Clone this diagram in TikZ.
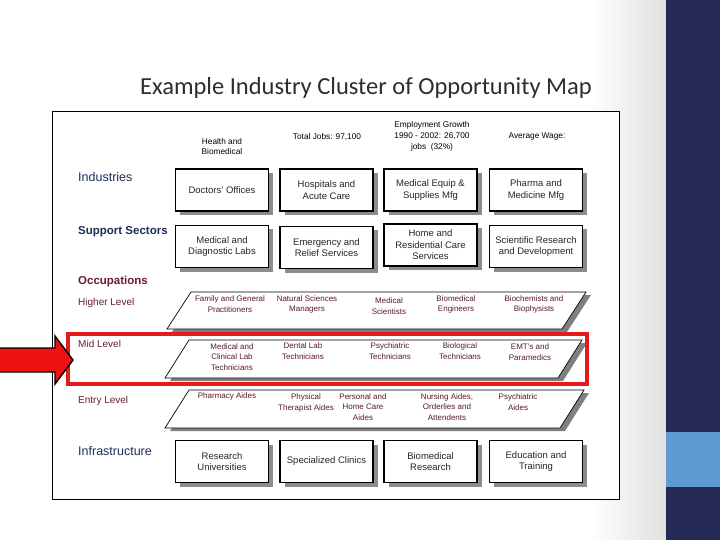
\documentclass[tikz,border=0pt]{standalone}
\usepackage{fontspec}
\setmainfont{Liberation Sans}
\newfontfamily\titlefont{Carlito}
\usetikzlibrary{shadows}
\definecolor{navyband}{HTML}{262A55}
\definecolor{lightband}{HTML}{5F9BD0}
\definecolor{lblnavy}{HTML}{1F2D5C}
\definecolor{lblmaroon}{HTML}{6B1D2F}
\definecolor{bandtxt}{HTML}{5A1A28}
\definecolor{arrowred}{HTML}{EE1111}
\definecolor{rectred}{HTML}{E31B1B}
\begin{document}
\begin{tikzpicture}[x=1pt,y=-1pt,
  cbox/.style={draw=black, line width=1.4pt, fill=white, minimum width=93pt,
    minimum height=42pt, align=center, inner sep=1pt,
    font=\fontsize{9.5}{11.5}\selectfont, text=black!85,
    drop shadow={shadow xshift=4.5pt, shadow yshift=-4pt, fill=black!45, opacity=1}},
  hdr/.style={align=center, inner sep=0pt, font=\fontsize{8.3}{10.8}\selectfont, text=black},
  rowlbl/.style={anchor=west, inner sep=0pt, font=\fontsize{12.5}{14}\selectfont, text=lblnavy},
  rowlblb/.style={anchor=west, inner sep=0pt, font=\bfseries\fontsize{11.5}{14}\selectfont},
  lvllbl/.style={anchor=west, inner sep=0pt, font=\fontsize{10}{12}\selectfont, text=lblmaroon},
  occ/.style={align=center, inner sep=0pt, font=\fontsize{8}{10.8}\selectfont, text=bandtxt},
  bandfill/.style={fill=white, draw=black, line width=0.7pt},
  bandshadow/.style={fill=black!50}
]
\useasboundingbox (0,0) rectangle (720,540);
% slide background
\fill[white] (0,0) rectangle (720,540);
\shade[left color=white, right color=black!12] (590,0) rectangle (666,540);
\fill[navyband] (666,0) rectangle (720,540);
\fill[lightband] (666,432) rectangle (720,487);

% title
\node[font=\titlefont\fontsize{24.5}{28}\selectfont, text=black!82] (title) at (366,88) {Example Industry Cluster of Opportunity Map};

% picture frame
\draw[line width=1pt, fill=white] (52,112) rectangle (619,499);

% headers
\node[hdr] (h1) at (222,146.5) {Health and\\Biomedical};
\node[hdr] (h2) at (327,137) {Total Jobs: 97,100};
\node[hdr] (h3) at (432,136.5) {Employment Growth\\1990 - 2002: 26,700\\jobs\ \ (32\%)};
\node[hdr] (h4) at (537,137) {Average Wage:};

% row labels
\node[rowlbl] (lind) at (78,177) {Industries};
\node[rowlblb, text=lblnavy] (lsup) at (78,232) {Support Sectors};
\node[rowlblb, text=lblmaroon] (locc) at (78,282) {Occupations};
\node[lvllbl] (lhigh) at (78,303) {Higher Level};
\node[lvllbl] (lmid) at (78,344) {Mid Level};
\node[lvllbl] (lentry) at (78,401) {Entry Level};
\node[rowlbl] (linf) at (78,451) {Infrastructure};

% industries
\node[cbox] (i1) at (222,190) {Doctors' Offices};
\node[cbox] (i2) at (326.5,190) {Hospitals and\\Acute Care};
\node[cbox] (i3) at (430.5,190) {Medical Equip \&\\Supplies Mfg};
\node[cbox] (i4) at (536,190) {Pharma and\\Medicine Mfg};

% support sectors
\node[cbox] (s1) at (222,246.5) {Medical and\\Diagnostic Labs};
\node[cbox] (s2) at (326.5,247.5) {Emergency and\\Relief Services};
\node[cbox] (s3) at (430.5,245) {Home and\\Residential Care\\Services};
\node[cbox] (s4) at (536,246.5) {Scientific Research\\and Development};

% occupation bands
\fill[bandshadow] (196,295) -- (591,295) -- (567,332) -- (172,332) -- cycle;
\draw[bandfill] (191,292) -- (586,292) -- (562,329) -- (167,329) -- cycle;
\fill[bandshadow] (194,343) -- (587,343) -- (563,381) -- (170,381) -- cycle;
\draw[bandfill] (189,340) -- (582,340) -- (558,378) -- (165,378) -- cycle;
\fill[bandshadow] (194,393) -- (589,393) -- (565,431) -- (170,431) -- cycle;
\draw[bandfill] (189,390) -- (584,390) -- (560,428) -- (165,428) -- cycle;

% higher level
\node[occ] (o11) at (230,304.5) {Family and General\\Practitioners};
\node[occ] (o12) at (307,304.5) {Natural Sciences\\Managers};
\node[occ] (o13) at (389,306) {Medical\\Scientists};
\node[occ] (o14) at (456,304.5) {Biomedical\\Engineers};
\node[occ] (o15) at (534,304.5) {Biochemists and\\Biophysists};

% mid level
\node[occ] (o21) at (232,357) {Medical and\\Clinical Lab\\Technicians};
\node[occ] (o22) at (303,351.5) {Dental Lab\\Technicians};
\node[occ] (o23) at (390,351) {Psychiatric\\Technicians};
\node[occ] (o24) at (460,351.5) {Biological\\Technicians};
\node[occ] (o25) at (530,352.5) {EMT's and\\Paramedics};

% entry level
\node[occ] (o31) at (227,396) {Pharmacy Aides};
\node[occ] (o32) at (306,403) {Physical\\Therapist Aides};
\node[occ] (o33) at (363,407) {Personal and\\Home Care\\Aides};
\node[occ] (o34) at (447,407) {Nursing Aides,\\Orderlies and\\Attendents};
\node[occ] (o35) at (518,402) {Psychiatric\\Aides};

% infrastructure
\node[cbox] (f1) at (222,461.5) {Research\\Universities};
\node[cbox] (f2) at (326.5,461.5) {Specialized Clinics};
\node[cbox] (f3) at (430.5,461.5) {Biomedical\\Research};
\node[cbox] (f4) at (536,461.5) {Education and\\Training};

% highlight
\draw[rectred, line width=4pt] (68,334) rectangle (587,384);
\draw[black, line width=1.4pt, fill=arrowred, line join=miter]
  (-2,348) -- (55,348) -- (55,336) -- (73,360) -- (55,384) -- (55,372) -- (-2,372) -- cycle;
\end{tikzpicture}
\end{document}
